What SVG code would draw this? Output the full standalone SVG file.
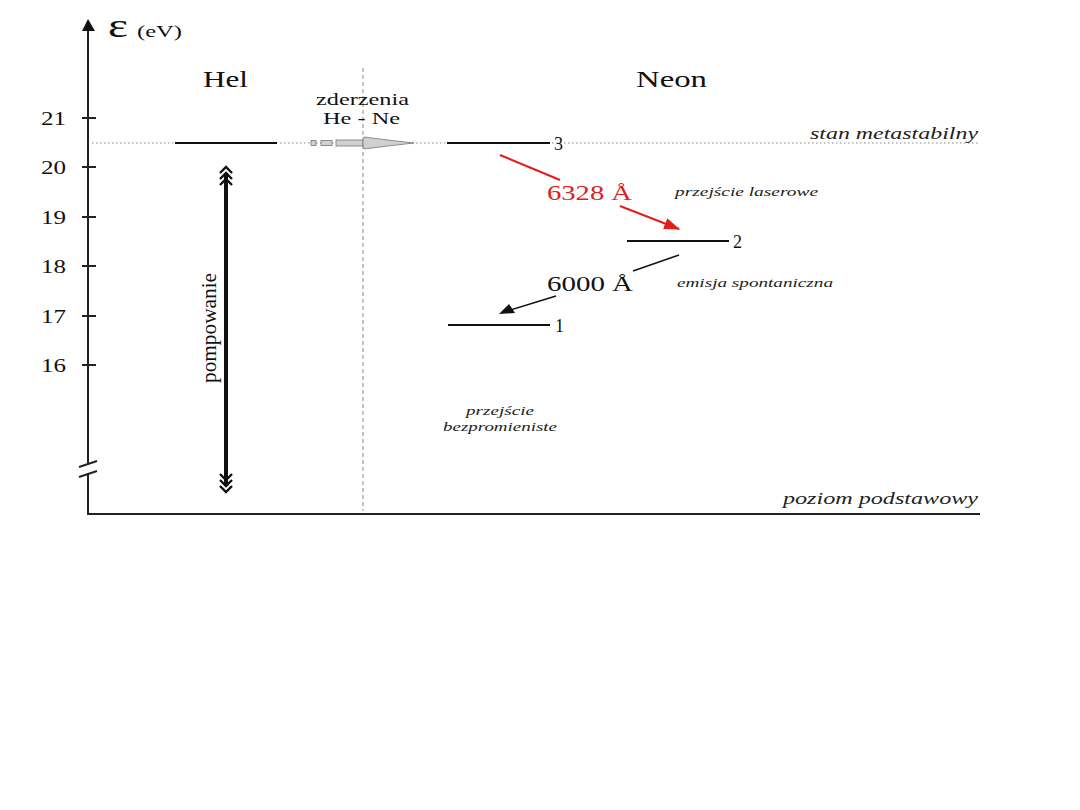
<svg xmlns="http://www.w3.org/2000/svg" width="1080" height="810" viewBox="0 0 1080 810">
<style>
.s{font-family:"Liberation Serif",serif;fill:#111}
.i{font-family:"Liberation Serif",serif;font-style:italic;fill:#222}
.ax{stroke:#222;stroke-width:2;fill:none}
.lv{stroke:#111;stroke-width:2;fill:none}
.ch{fill:none;stroke:#111;stroke-width:2.4}
</style>
<defs>
<marker id="ar" viewBox="0 0 14 10" refX="13" refY="5" markerWidth="16" markerHeight="12" markerUnits="userSpaceOnUse" orient="auto"><path d="M0,0L14,5L0,10z" fill="#e0201a"/></marker>
</defs>
<rect width="1080" height="810" fill="#fff"/>
<g id="axes">
<line class="ax" x1="88" y1="28" x2="88" y2="463"/>
<line class="ax" x1="88" y1="473" x2="88" y2="514"/>
<line class="ax" x1="87" y1="514" x2="980" y2="514"/>
<path d="M88,19L82,31L95,31z" fill="#111"/>
<line class="ax" x1="79" y1="467" x2="97" y2="461"/>
<line class="ax" x1="79" y1="477" x2="97" y2="471"/>
<g class="ax"><line x1="82" y1="118" x2="96" y2="118"/><line x1="82" y1="167" x2="96" y2="167"/><line x1="82" y1="217" x2="96" y2="217"/><line x1="82" y1="266" x2="96" y2="266"/><line x1="82" y1="316" x2="96" y2="316"/><line x1="82" y1="365" x2="96" y2="365"/></g>
<g class="s" font-size="19" text-anchor="end"><text x="66" y="125" textLength="25" lengthAdjust="spacingAndGlyphs">21</text><text x="66" y="174" textLength="25" lengthAdjust="spacingAndGlyphs">20</text><text x="66" y="224" textLength="25" lengthAdjust="spacingAndGlyphs">19</text><text x="66" y="273" textLength="25" lengthAdjust="spacingAndGlyphs">18</text><text x="66" y="323" textLength="25" lengthAdjust="spacingAndGlyphs">17</text><text x="66" y="372" textLength="25" lengthAdjust="spacingAndGlyphs">16</text></g>
<text class="s" x="108" y="37" font-size="34" textLength="20" lengthAdjust="spacingAndGlyphs">ε</text>
<text class="s" x="137" y="37" font-size="17" textLength="45" lengthAdjust="spacingAndGlyphs">(eV)</text>
</g>
<g id="guides">
<line x1="92" y1="143" x2="980" y2="143" stroke="#888" stroke-width="1" stroke-dasharray="1.5,2.5"/>
<line x1="363" y1="68" x2="363" y2="511" stroke="#888" stroke-width="1" stroke-dasharray="4,3"/>
</g>
<g id="titles">
<text class="s" x="203" y="87" font-size="24" textLength="45" lengthAdjust="spacingAndGlyphs">Hel</text>
<text class="s" x="636" y="87" font-size="24" textLength="71" lengthAdjust="spacingAndGlyphs">Neon</text>
</g>
<g id="hel-level"><line class="lv" x1="175" y1="143" x2="277" y2="143"/></g>
<g id="neon-3"><line class="lv" x1="447" y1="143" x2="550" y2="143"/><text class="s" x="554" y="150" font-size="18">3</text></g>
<g id="neon-2"><line class="lv" x1="627" y1="241" x2="729" y2="241"/><text class="s" x="733" y="248" font-size="18">2</text></g>
<g id="neon-1"><line class="lv" x1="448" y1="325" x2="550" y2="325"/><text class="s" x="555" y="332" font-size="18">1</text></g>
<g id="collision">
<text class="s" x="316" y="105" font-size="17" textLength="93" lengthAdjust="spacingAndGlyphs">zderzenia</text>
<text class="s" x="323" y="124" font-size="17" textLength="77" lengthAdjust="spacingAndGlyphs">He - Ne</text>
<g fill="#d0d0d0" stroke="#777" stroke-width="0.8">
<rect x="311" y="140.5" width="5" height="5"/>
<rect x="321" y="140.5" width="11" height="5"/>
<rect x="336" y="140" width="27" height="6"/>
<path d="M363,140L364,137L372,138L388,140L414,143L388,146L372,148L364,149L363,146z"/>
</g>
</g>
<g id="pumping">
<line x1="226" y1="173" x2="226" y2="486" stroke="#111" stroke-width="4"/>
<path class="ch" d="M220,173L226,167L232,173M220,179L226,173L232,179M220,185L226,179L232,185"/>
<path class="ch" d="M220,474L226,480L232,474M220,480L226,486L232,480M220,486L226,492L232,486"/>
<text class="s" font-size="21" text-anchor="middle" transform="translate(216,328) rotate(-90)" textLength="110" lengthAdjust="spacingAndGlyphs">pompowanie</text>
</g>
<g id="connectors">
<line x1="500" y1="155" x2="560" y2="180" stroke="#e0201a" stroke-width="2.2"/>
<line x1="620" y1="206" x2="679" y2="229" stroke="#e0201a" stroke-width="2.2" marker-end="url(#ar)"/>
<line x1="679" y1="255" x2="633" y2="271" stroke="#111" stroke-width="1.5"/>
<line x1="556" y1="296" x2="504" y2="312" stroke="#111" stroke-width="1.5"/>
<path d="M499,314L509,304L515,313z" fill="#111"/>
</g>
<g id="labels">
<text x="547" y="200" font-size="21" font-family="Liberation Serif,serif" fill="#e0201a" textLength="85" lengthAdjust="spacingAndGlyphs">6328 Å</text>
<text class="s" x="547" y="291" font-size="21" textLength="86" lengthAdjust="spacingAndGlyphs">6000 Å</text>
<text class="i" x="675" y="196" font-size="13.5" textLength="143" lengthAdjust="spacingAndGlyphs">przejście laserowe</text>
<text class="i" x="677" y="287" font-size="13.5" textLength="156" lengthAdjust="spacingAndGlyphs">emisja spontaniczna</text>
<text class="i" x="466" y="415" font-size="13.5" textLength="68" lengthAdjust="spacingAndGlyphs">przejście</text>
<text class="i" x="443" y="431" font-size="13.5" textLength="114" lengthAdjust="spacingAndGlyphs">bezpromieniste</text>
<text class="i" x="810" y="139" font-size="16" textLength="168" lengthAdjust="spacingAndGlyphs">stan metastabilny</text>
<text class="i" x="783" y="504" font-size="16" textLength="195" lengthAdjust="spacingAndGlyphs">poziom podstawowy</text>
</g>
</svg>
